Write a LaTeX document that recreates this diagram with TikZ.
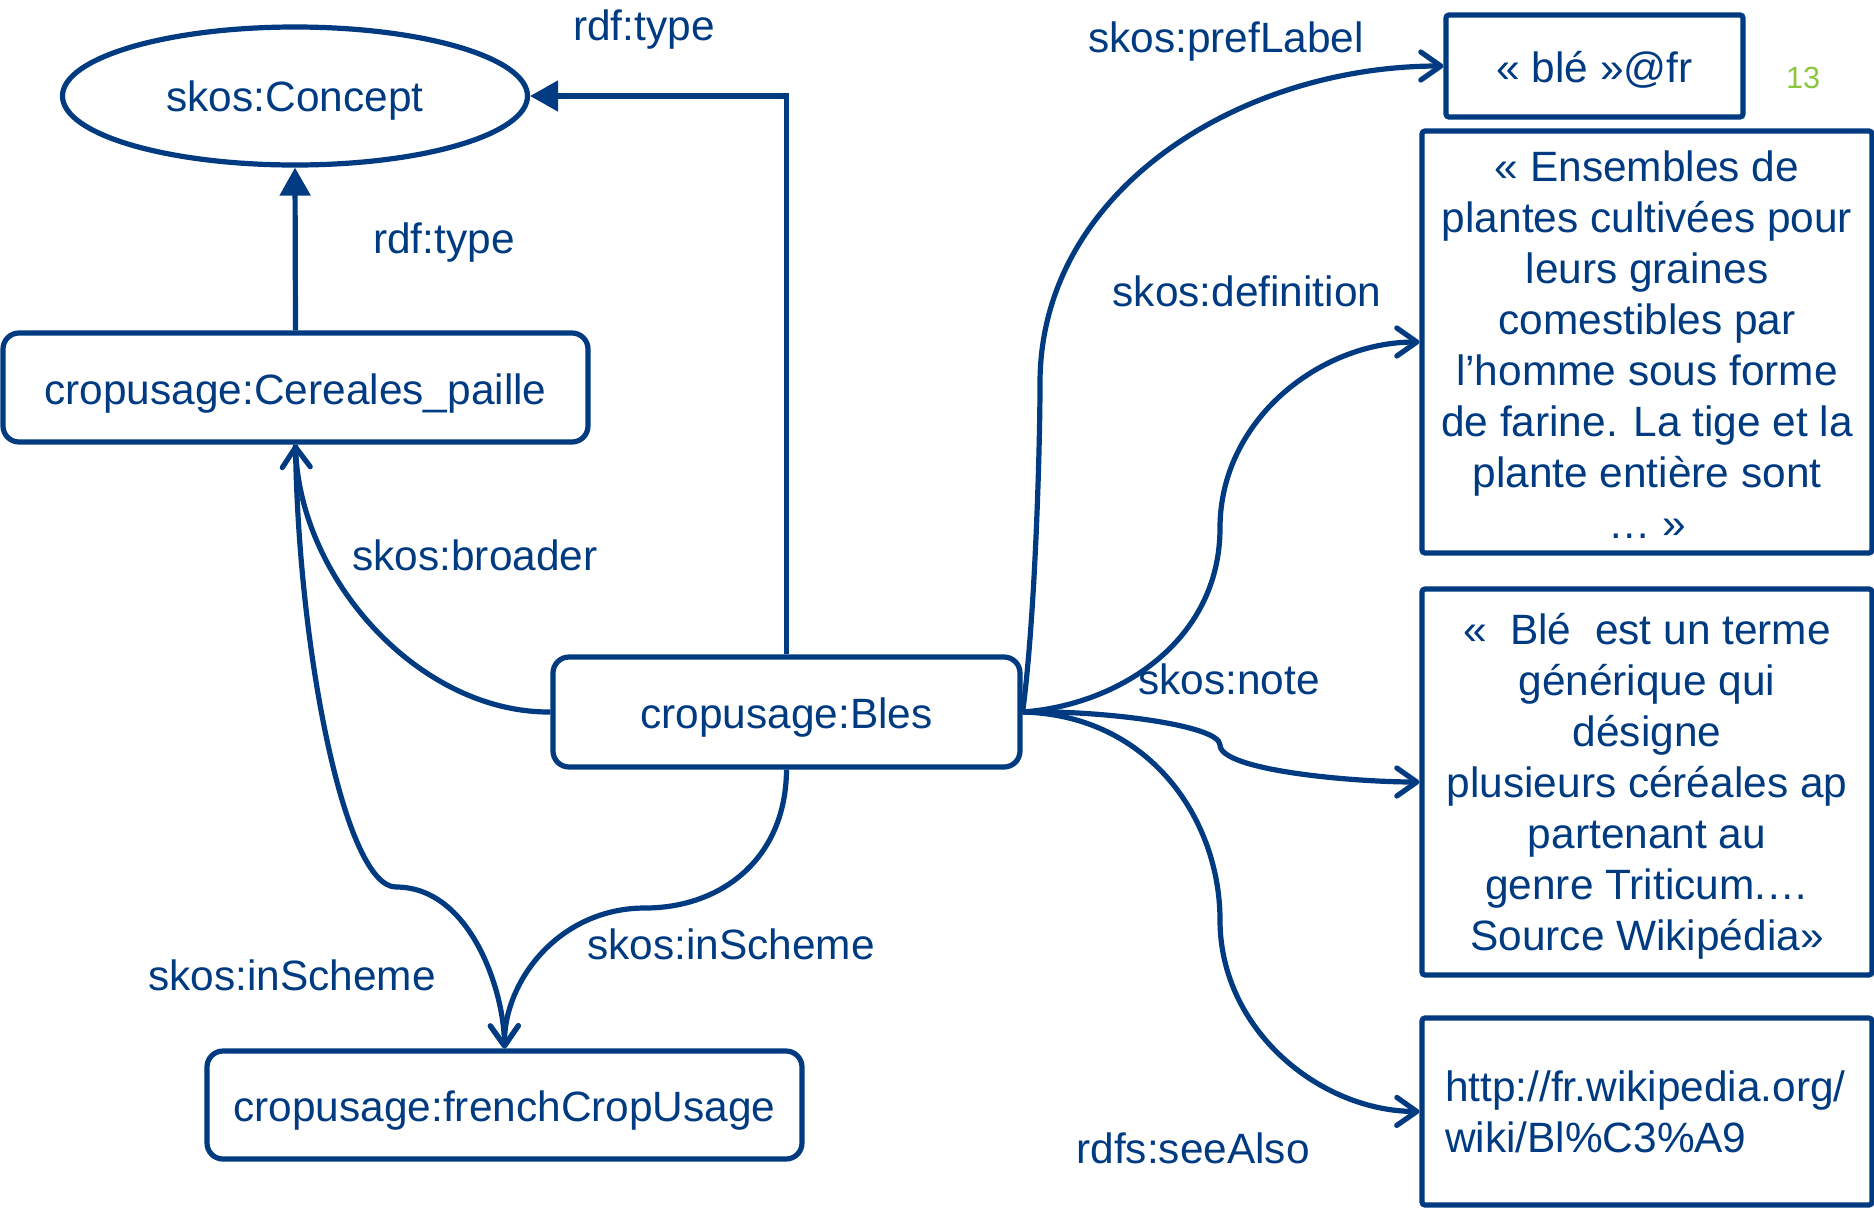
\documentclass[tikz,border=0pt]{standalone}
\usepackage{fontspec}
\setmainfont{Liberation Sans}
\usetikzlibrary{arrows.meta,shapes.geometric}
\definecolor{navy}{RGB}{0,58,128}
\definecolor{pgreen}{RGB}{140,198,63}
\tikzset{
  every node/.style={font=\fontsize{21.2}{25.5}\selectfont, text=navy},
  lnk/.style={draw=navy, line width=2.6pt},
  textmid/.style={text height=18.7pt, text depth=2.1pt},
  res/.style={lnk, rounded corners=8pt, inner sep=0pt, textmid},
  lit/.style={lnk, rounded corners=1.5pt, inner sep=0pt},
  typearrow/.style={lnk, -{Triangle[length=14pt,width=15pt]}},
  rel/.style={lnk, -{Straight Barb[length=10pt,width=14pt,round]}},
  lbl/.style={anchor=base, inner sep=0pt},
}
\begin{document}
\begin{tikzpicture}[x=0.5pt,y=-0.5pt]
\useasboundingbox (0,0) rectangle (1874,1211);
% nodes
\node[ellipse, lnk, minimum width=232.5pt, minimum height=69pt, inner sep=0pt, text height=18pt, text depth=2.8pt] (concept) at (295,96) {skos:Concept};
\node[res, minimum width=292.5pt, minimum height=54.5pt] (cer) at (295.5,387.5) {cropusage:Cereales\_paille};
\node[res, minimum width=233.5pt, minimum height=55pt] (bles) at (786.5,712) {cropusage:Bles};
\node[res, minimum width=297.5pt, minimum height=54pt] (fr) at (504.5,1105) {cropusage:frenchCropUsage};
\node[lit, textmid, minimum width=148.5pt, minimum height=51pt] (ble) at (1594.5,66) {« blé »@fr};
\node[lit, minimum width=225pt, minimum height=211pt, align=center] (def) at (1647,342) {\rule{0pt}{17.5pt}« Ensembles de\\ plantes cultivées pour\\ leurs graines\\ comestibles par\\ l’homme sous forme\\ de farine. La tige et la\\ plante entière sont\\ … »};
\node[lit, minimum width=225pt, minimum height=193pt, align=center] (note) at (1647,782) {\rule{0pt}{20pt}«\ \ Blé\ \ est un terme\\ générique qui\\ désigne\\ plusieurs céréales ap\\ partenant au\\ genre Triticum.…\\ Source Wikipédia»};
\node[lit, minimum width=225pt, minimum height=93.5pt, text width=202pt, align=left] (url) at (1647,1111.5) {http://fr.wikipedia.org/\\ wiki/Bl\%C3\%A9};
\node[font=\fontsize{15.3}{18}\selectfont, text=pgreen, inner sep=0pt] (pg) at (1803,78) {13};
% labels
\node[lbl] (l1) at (644,40) {rdf:type};
\node[lbl] (l2) at (444,253) {rdf:type};
\node[lbl] (l3) at (475,570) {skos:broader};
\node[lbl] (l4) at (292,990) {skos:inScheme};
\node[lbl] (l5) at (731,959) {skos:inScheme};
\node[lbl] (l6) at (1226,52) {skos:prefLabel};
\node[lbl] (l7) at (1247,306) {skos:definition};
\node[lbl] (l8) at (1229,694) {skos:note};
\node[lbl] (l9) at (1193,1163) {rdfs:seeAlso};
% connectors
\draw[typearrow] (cer.north) -- (concept.south);
\draw[typearrow] (bles.north) |- (concept.east);
\draw[rel] (bles.west) .. controls (420,713) and (300,580) .. (cer.south);
\draw[rel] (cer.south) .. controls (298,650) and (345,887) .. (396,887) .. controls (470,887) and (504,990) .. (fr.north);
\draw[rel] (bles.south) .. controls (786,860) and (720,908) .. (645,908) .. controls (560,908) and (504,980) .. (fr.north);
\draw[rel] (bles.east) .. controls (1035,620) and (1040,450) .. (1040,383) .. controls (1040,190) and (1240,66) .. (ble.west);
\draw[rel] (bles.east) .. controls (1120,705) and (1220,640) .. (1220,528) .. controls (1220,420) and (1320,342) .. (def.west);
\draw[rel] (bles.east) .. controls (1100,710) and (1220,725) .. (1220,745) .. controls (1220,770) and (1350,782) .. (note.west);
\draw[rel] (bles.east) .. controls (1150,715) and (1220,820) .. (1220,920) .. controls (1220,1030) and (1320,1111) .. (url.west);
\end{tikzpicture}
\end{document}
